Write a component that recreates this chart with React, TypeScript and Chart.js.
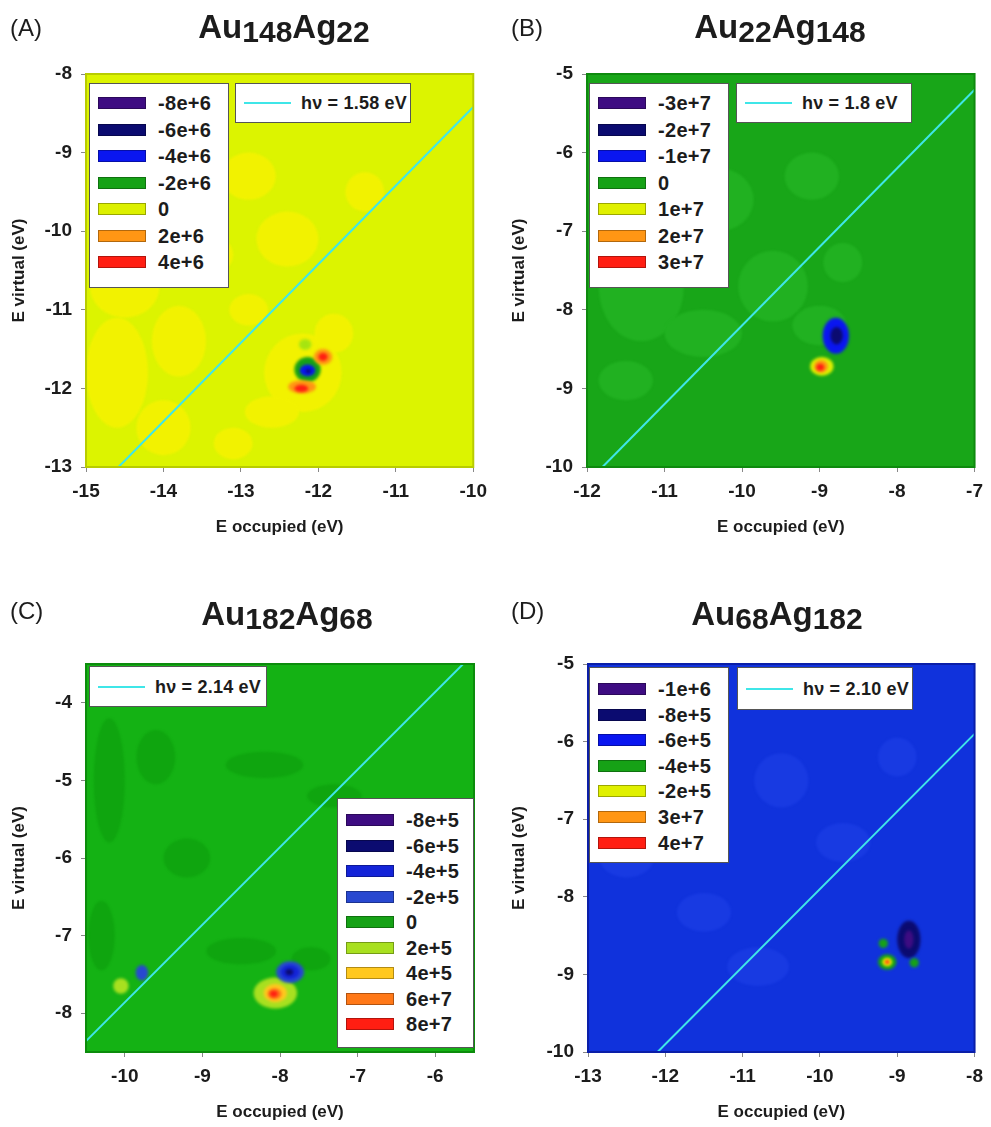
import React, { useEffect, useRef } from 'react';
import { Chart, registerables } from 'chart.js';

Chart.register(...registerables);

const FONT = '"Liberation Sans", Arial, Helvetica, sans-serif';
const INK = '#1c1c1c';
const CYAN = '#3fe6e8';

// ---------- shared palette (styles) ----------
const PURPLE = '#3e0c82';
const NAVY = '#0b0b70';
const BLUE = '#0a16f0';
const GREEN = '#16a216';
const LIME = '#dcf000';
const ORANGE = '#ff9614';
const RED = '#ff1e12';

// ---------- Panel A : Au148Ag22 ----------
const aTitle = ['Au', '148', 'Ag', '22'];
const aXTicks = [-15, -14, -13, -12, -11, -10];
const aYTicks = [-13, -12, -11, -10, -9, -8];
const aLevels = ['-8e+6', '-6e+6', '-4e+6', '-2e+6', '0', '2e+6', '4e+6'];
const aHv = '1.58';
const aLineX = [-14.58, -10];
const aLineY = [-13, -8.42];
// patches: [x, y, rx, ry, shade]
const aPatches: number[][] = [
  [-14.5, -10.7, 0.45, 0.4, 0], [-14.6, -11.8, 0.4, 0.7, 0], [-13.8, -11.4, 0.35, 0.45, 0],
  [-14.0, -12.5, 0.35, 0.35, 0], [-13.4, -10.3, 0.3, 0.25, 0],
  [-12.9, -9.3, 0.35, 0.3, 0], [-12.4, -10.1, 0.4, 0.35, 0], [-11.4, -9.5, 0.25, 0.25, 0],
  [-12.2, -11.8, 0.5, 0.5, 0], [-11.8, -11.3, 0.25, 0.25, 0], [-12.6, -12.3, 0.35, 0.2, 0],
  [-13.1, -12.7, 0.25, 0.2, 0], [-12.9, -11.0, 0.25, 0.2, 0],
];
// blobs: [x, y, rx, ry, levelIndex] (7 = intermediate light green)
const aBlobs: number[][] = [
  [-12.14, -11.76, 0.17, 0.16, 3], [-12.17, -11.44, 0.08, 0.07, 7],
  [-11.94, -11.6, 0.12, 0.1, 5], [-11.94, -11.6, 0.06, 0.05, 6],
  [-12.14, -11.77, 0.1, 0.075, 2], [-12.13, -11.78, 0.035, 0.025, 1],
  [-12.21, -11.98, 0.18, 0.085, 5], [-12.22, -12.0, 0.09, 0.045, 6],
];

// ---------- Panel B : Au22Ag148 ----------
const bTitle = ['Au', '22', 'Ag', '148'];
const bXTicks = [-12, -11, -10, -9, -8, -7];
const bYTicks = [-10, -9, -8, -7, -6, -5];
const bLevels = ['-3e+7', '-2e+7', '-1e+7', '0', '1e+7', '2e+7', '3e+7'];
const bHv = '1.8';
const bLineX = [-11.8, -7];
const bLineY = [-10, -5.2];
const bPatches: number[][] = [
  [-11.3, -7.7, 0.55, 0.7, 0], [-10.3, -6.6, 0.45, 0.4, 0], [-10.5, -8.3, 0.5, 0.3, 0],
  [-9.6, -7.7, 0.45, 0.45, 0], [-9.1, -6.3, 0.35, 0.3, 0], [-8.7, -7.4, 0.25, 0.25, 0],
  [-11.5, -8.9, 0.35, 0.25, 0], [-9.0, -8.2, 0.35, 0.25, 0],
];
const bBlobs: number[][] = [
  [-8.79, -8.33, 0.17, 0.23, 2], [-8.78, -8.33, 0.08, 0.11, 1],
  [-8.97, -8.72, 0.15, 0.12, 4], [-8.98, -8.72, 0.09, 0.08, 5], [-8.99, -8.73, 0.05, 0.045, 6],
];

// ---------- Panel C : Au182Ag68 ----------
const cTitle = ['Au', '182', 'Ag', '68'];
const cXTicks = [-10, -9, -8, -7, -6];
const cYTicks = [-8, -7, -6, -5, -4];
const cLevels = ['-8e+5', '-6e+5', '-4e+5', '-2e+5', '0', '2e+5', '4e+5', '6e+7', '8e+7'];
const cHv = '2.14';
const cLineX = [-10.5, -5.64];
const cLineY = [-8.36, -3.5];
const cPatches: number[][] = [
  [-10.2, -5.0, 0.2, 0.8, 0], [-9.6, -4.7, 0.25, 0.35, 0], [-8.2, -4.8, 0.5, 0.17, 0],
  [-7.3, -5.2, 0.35, 0.15, 0], [-9.2, -6.0, 0.3, 0.25, 0], [-10.3, -7.0, 0.17, 0.45, 0],
  [-8.5, -7.2, 0.45, 0.17, 0], [-7.6, -7.3, 0.25, 0.15, 0],
];
const cBlobs: number[][] = [
  [-10.05, -7.65, 0.1, 0.1, 5], [-9.78, -7.48, 0.08, 0.1, 3],
  [-8.06, -7.74, 0.28, 0.2, 5],
  [-7.87, -7.47, 0.18, 0.14, 3], [-7.87, -7.47, 0.12, 0.09, 2], [-7.88, -7.47, 0.05, 0.04, 1],
  [-8.06, -7.74, 0.15, 0.12, 6], [-8.07, -7.75, 0.09, 0.07, 7], [-8.08, -7.75, 0.05, 0.04, 8],
];

// ---------- Panel D : Au68Ag182 ----------
const dTitle = ['Au', '68', 'Ag', '182'];
const dXTicks = [-13, -12, -11, -10, -9, -8];
const dYTicks = [-10, -9, -8, -7, -6, -5];
const dLevels = ['-1e+6', '-8e+5', '-6e+5', '-4e+5', '-2e+5', '3e+7', '4e+7'];
const dHv = '2.10';
const dLineX = [-12.1, -8];
const dLineY = [-10, -5.9];
const dPatches: number[][] = [
  [-12.5, -7.5, 0.35, 0.25, 0], [-11.5, -8.2, 0.35, 0.25, 0], [-10.5, -6.5, 0.35, 0.35, 0],
  [-9.7, -7.3, 0.35, 0.25, 0], [-9.0, -6.2, 0.25, 0.25, 0], [-10.8, -8.9, 0.4, 0.25, 0],
];
const dBlobs: number[][] = [
  [-8.85, -8.55, 0.15, 0.24, 1], [-8.85, -8.55, 0.06, 0.12, 0],
  [-9.13, -8.84, 0.12, 0.1, 3], [-8.78, -8.85, 0.06, 0.06, 3], [-9.18, -8.6, 0.06, 0.06, 3],
  [-9.13, -8.84, 0.065, 0.055, 4], [-9.13, -8.84, 0.035, 0.03, 5], [-9.13, -8.84, 0.02, 0.018, 6],
];

interface Box { l: number; t: number; r: number; b: number }
interface PanelSpec {
  tag: string;
  title: string[];
  canvas: { left: number; top: number; width: number; height: number };
  plot: Box;
  xTicks: number[];
  yTicks: number[];
  xMin: number; xMax: number; yMin: number; yMax: number;
  levels: string[];
  colors: string[];
  bg: string;
  border: string;
  shades: string[];
  patches: number[][];
  blobs: number[][];
  lineX: number[];
  lineY: number[];
  hv: string;
  levelBox: { left: number; top: number; width: number; height: number; row0: number; gap: number };
  lineBox: { left: number; top: number; width: number; height: number };
  tagPos: { left: number; top: number };
  titlePos: { cx: number; top: number };
}

const panels: PanelSpec[] = [
  {
    tag: '(A)', title: aTitle,
    canvas: { left: 0, top: 0, width: 495, height: 563 },
    plot: { l: 86, t: 74, r: 478, b: 467 },
    xTicks: aXTicks, yTicks: aYTicks, xMin: -15, xMax: -10, yMin: -13, yMax: -8,
    levels: aLevels,
    colors: [PURPLE, NAVY, BLUE, GREEN, LIME, ORANGE, RED, '#a6e410'],
    bg: '#dcf400', border: '#b8cc00', shades: ['#f2f200'],
    patches: aPatches, blobs: aBlobs, lineX: aLineX, lineY: aLineY, hv: aHv,
    levelBox: { left: 89, top: 83, width: 140, height: 205, row0: 19, gap: 26.5 },
    lineBox: { left: 235, top: 83, width: 176, height: 40 },
    tagPos: { left: 10, top: 14 }, titlePos: { cx: 284, top: 8 },
  },
  {
    tag: '(B)', title: bTitle,
    canvas: { left: 500, top: 0, width: 491, height: 563 },
    plot: { l: 587, t: 74, r: 978, b: 467 },
    xTicks: bXTicks, yTicks: bYTicks, xMin: -12, xMax: -7, yMin: -10, yMax: -5,
    levels: bLevels,
    colors: [PURPLE, NAVY, BLUE, GREEN, '#e0f000', ORANGE, RED],
    bg: '#18a618', border: '#0e8a0e', shades: ['#21b121'],
    patches: bPatches, blobs: bBlobs, lineX: bLineX, lineY: bLineY, hv: bHv,
    levelBox: { left: 589, top: 83, width: 140, height: 205, row0: 19, gap: 26.5 },
    lineBox: { left: 736, top: 83, width: 176, height: 40 },
    tagPos: { left: 511, top: 14 }, titlePos: { cx: 780, top: 8 },
  },
  {
    tag: '(C)', title: cTitle,
    canvas: { left: 0, top: 563, width: 495, height: 564 },
    plot: { l: 86, t: 664, r: 474, b: 1052 },
    xTicks: cXTicks, yTicks: cYTicks, xMin: -10.5, xMax: -5.5, yMin: -8.5, yMax: -3.5,
    levels: cLevels,
    colors: [PURPLE, NAVY, '#1424d8', '#2848d0', GREEN, '#a8e020', '#ffc81e', '#ff7818', RED],
    bg: '#14b214', border: '#0c8c0c', shades: ['#0fa50f'],
    patches: cPatches, blobs: cBlobs, lineX: cLineX, lineY: cLineY, hv: cHv,
    levelBox: { left: 337, top: 798, width: 137, height: 250, row0: 21, gap: 25.5 },
    lineBox: { left: 89, top: 666, width: 178, height: 41 },
    tagPos: { left: 10, top: 597 }, titlePos: { cx: 287, top: 595 },
  },
  {
    tag: '(D)', title: dTitle,
    canvas: { left: 500, top: 563, width: 491, height: 564 },
    plot: { l: 588, t: 664, r: 978, b: 1052 },
    xTicks: dXTicks, yTicks: dYTicks, xMin: -13, xMax: -8, yMin: -10, yMax: -5,
    levels: dLevels,
    colors: [PURPLE, NAVY, BLUE, GREEN, '#e0f000', ORANGE, RED],
    bg: '#1032dc', border: '#0a1ea8', shades: ['#183ae2'],
    patches: dPatches, blobs: dBlobs, lineX: dLineX, lineY: dLineY, hv: dHv,
    levelBox: { left: 589, top: 667, width: 140, height: 196, row0: 21, gap: 25.6 },
    lineBox: { left: 737, top: 667, width: 176, height: 43 },
    tagPos: { left: 511, top: 597 }, titlePos: { cx: 777, top: 595 },
  },
];

function ChartPanel({ p }: { p: PanelSpec }) {
  const ref = useRef<HTMLCanvasElement | null>(null);
  useEffect(() => {
    if (!ref.current) return;
    const c = p.canvas;
    const padLeft = 5;
    const yAxisW = p.plot.l - c.left - padLeft;
    const xAxisH = 74;
    const padTop = p.plot.t - c.top;
    const padRight = c.left + c.width - p.plot.r;
    const padBottom = c.top + c.height - p.plot.b - xAxisH;

    const ellipse = (chart: any, e: number[], color: string) => {
      const { ctx } = chart;
      const xs = chart.scales.x;
      const ys = chart.scales.y;
      const cx = xs.getPixelForValue(e[0]);
      const cy = ys.getPixelForValue(e[1]);
      const rx = Math.abs(xs.getPixelForValue(e[0] + e[2]) - cx);
      const ry = Math.abs(ys.getPixelForValue(e[1] + e[3]) - cy);
      ctx.fillStyle = color;
      ctx.beginPath();
      ctx.ellipse(cx, cy, rx, ry, 0, 0, Math.PI * 2);
      ctx.fill();
    };

    const field = {
      id: 'field',
      beforeDatasetsDraw(chart: any) {
        const { ctx, chartArea: ca } = chart;
        ctx.save();
        ctx.beginPath();
        ctx.rect(ca.left, ca.top, ca.right - ca.left, ca.bottom - ca.top);
        ctx.clip();
        ctx.fillStyle = p.bg;
        ctx.fillRect(ca.left, ca.top, ca.right - ca.left, ca.bottom - ca.top);
        ctx.filter = 'blur(1.2px)';
        for (const e of p.patches) ellipse(chart, e, p.shades[e[4]]);
        ctx.filter = 'blur(1.5px)';
        for (const e of p.blobs) ellipse(chart, e, p.colors[e[4]]);
        ctx.filter = 'none';
        ctx.restore();
      },
      afterDatasetsDraw(chart: any) {
        const { ctx, chartArea: ca } = chart;
        ctx.save();
        ctx.strokeStyle = p.border;
        ctx.lineWidth = 2;
        ctx.strokeRect(ca.left, ca.top, ca.right - ca.left, ca.bottom - ca.top);
        ctx.restore();
      },
    };

    const tickFont = { family: FONT, size: 19, weight: 'bold' as const };
    const titleFont = { family: FONT, size: 17, weight: 'bold' as const };

    const chart = new Chart(ref.current, {
      type: 'line',
      data: {
        datasets: [
          {
            data: p.lineX.map((x, i) => ({ x, y: p.lineY[i] })),
            borderColor: CYAN,
            borderWidth: 2,
            pointRadius: 0,
            fill: false,
          },
        ],
      },
      options: {
        animation: false,
        responsive: false,
        maintainAspectRatio: false,
        devicePixelRatio: 1,
        layout: { padding: { left: padLeft, top: padTop, right: padRight, bottom: padBottom } },
        plugins: { legend: { display: false }, tooltip: { enabled: false }, title: { display: false } },
        scales: {
          x: {
            type: 'linear',
            min: p.xMin,
            max: p.xMax,
            afterBuildTicks: (s: any) => { s.ticks = p.xTicks.map((v) => ({ value: v })); },
            afterFit: (s: any) => { s.height = xAxisH; },
            grid: { drawOnChartArea: false, drawTicks: true, tickLength: 5, color: '#888' },
            border: { display: false },
            ticks: { font: tickFont, color: INK, padding: 8, maxRotation: 0, callback: (v: any) => String(v) },
            title: { display: true, text: 'E occupied (eV)', font: titleFont, color: INK, padding: { top: 4, bottom: 3 } },
          },
          y: {
            type: 'linear',
            min: p.yMin,
            max: p.yMax,
            afterBuildTicks: (s: any) => { s.ticks = p.yTicks.map((v) => ({ value: v })); },
            afterFit: (s: any) => { s.width = yAxisW; },
            grid: { drawOnChartArea: false, drawTicks: true, tickLength: 5, color: '#888' },
            border: { display: false },
            ticks: { font: tickFont, color: INK, padding: 9, callback: (v: any) => String(v) },
            title: { display: true, text: 'E virtual (eV)', font: titleFont, color: INK, padding: { top: 4, bottom: 4 } },
          },
        },
      },
      plugins: [field],
    } as any);
    return () => chart.destroy();
  }, [p]);

  const c = p.canvas;
  const lb = p.levelBox;
  const nb = p.lineBox;
  const legendText: React.CSSProperties = {
    position: 'absolute', font: `bold 20px ${FONT}`, color: INK, lineHeight: '22px', whiteSpace: 'nowrap',
    letterSpacing: '0.3px',
  };
  return (
    <>
      <canvas
        ref={ref}
        width={c.width}
        height={c.height}
        style={{ position: 'absolute', left: c.left, top: c.top, width: c.width, height: c.height }}
      />
      <div style={{ position: 'absolute', left: p.tagPos.left, top: p.tagPos.top, font: `24px ${FONT}`, color: INK, lineHeight: '28px' }}>
        {p.tag}
      </div>
      <div
        style={{
          position: 'absolute', left: p.titlePos.cx - 160, width: 320, top: p.titlePos.top, textAlign: 'center',
          font: `bold 33px ${FONT}`, color: INK, lineHeight: '38px',
        }}
      >
        {p.title[0]}
        <span style={{ fontSize: 30, position: 'relative', top: 4 }}>{p.title[1]}</span>
        {p.title[2]}
        <span style={{ fontSize: 30, position: 'relative', top: 4 }}>{p.title[3]}</span>
      </div>
      <div
        style={{
          position: 'absolute', left: lb.left, top: lb.top, width: lb.width, height: lb.height,
          background: '#fff', border: '1px solid #555', boxSizing: 'border-box',
        }}
      >
        {p.levels.map((lv, i) => (
          <React.Fragment key={lv + i}>
            <div
              style={{
                position: 'absolute', left: 8, top: lb.row0 + i * lb.gap - 6, width: 48, height: 12,
                background: p.colors[i], boxSizing: 'border-box', border: '1px solid rgba(0,0,0,0.3)',
              }}
            />
            <div style={{ ...legendText, left: 68, top: lb.row0 + i * lb.gap - 11 }}>{lv}</div>
          </React.Fragment>
        ))}
      </div>
      <div
        style={{
          position: 'absolute', left: nb.left, top: nb.top, width: nb.width, height: nb.height,
          background: '#fff', border: '1px solid #555', boxSizing: 'border-box',
        }}
      >
        <div style={{ position: 'absolute', left: 8, top: nb.height / 2 - 2, width: 47, height: 2, background: CYAN }} />
        <div style={{ ...legendText, font: `bold 18px ${FONT}`, letterSpacing: '0.2px', left: 65, top: nb.height / 2 - 12 }}>{`hν = ${p.hv} eV`}</div>
      </div>
    </>
  );
}

export default function App() {
  return (
    <div style={{ position: 'absolute', left: 0, top: 0, width: 991, height: 1127, background: '#fff', overflow: 'hidden' }}>
      {panels.map((p) => (
        <ChartPanel key={p.tag} p={p} />
      ))}
    </div>
  );
}
